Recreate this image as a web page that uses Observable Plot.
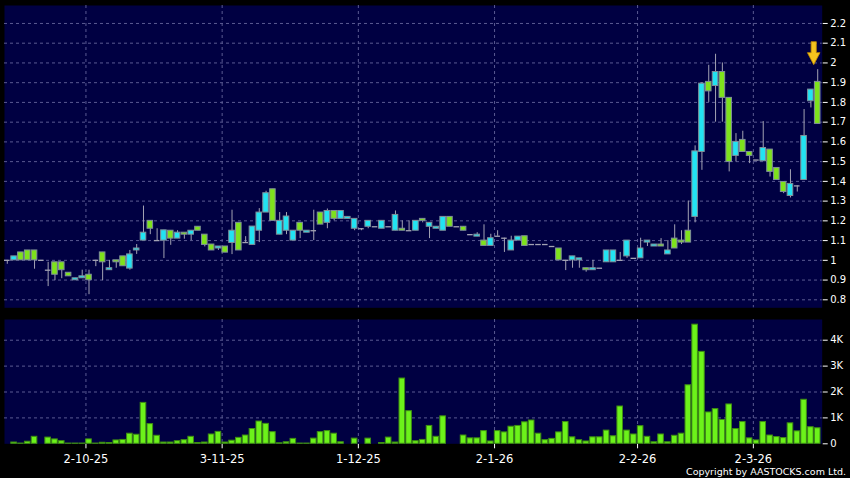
<!DOCTYPE html>
<html><head><meta charset="utf-8">
<script src="https://cdn.jsdelivr.net/npm/d3@7"></script>
<script src="https://cdn.jsdelivr.net/npm/@observablehq/plot@0.6"></script>
<style>
body{margin:0;background:#000;}
#chart{position:relative;width:850px;height:478px;background:#000;overflow:hidden;font-family:"DejaVu Sans",sans-serif;}
#chart svg{position:absolute;left:0;}
#copy{position:absolute;right:4px;top:466px;color:#fff;font-size:9.5px;line-height:11px;font-family:"DejaVu Sans",sans-serif;white-space:nowrap;}
</style></head><body><div id="chart"></div><script>
// ---- data (one entry per trading day) ----
const opens  = [1.00,1.00,1.04,1.05,1.05,1.00,0.95,0.99,0.99,0.937,0.899,0.909,0.927,1.00,1.04,0.95,1.00,1.02,0.958,1.05,
 1.10,1.20,1.10,1.10,1.15,1.11,1.14,1.13,1.17,1.13,1.08,1.06,1.07,1.088,1.19,1.09,1.078,1.15,1.242,1.36,
 1.13,1.15,1.10,1.19,1.14,1.15,1.242,1.19,1.25,1.21,1.21,1.16,1.16,1.17,1.17,1.16,1.17,1.15,1.16,1.15,
 1.15,1.21,1.17,1.16,1.15,1.22,1.17,1.17,1.13,1.12,1.10,1.073,1.122,1.112,1.05,1.10,1.122,1.08,1.08,1.08,
 1.07,1.06,1.00,1.00,1.00,0.96,0.95,0.96,0.99,0.99,1.00,1.02,1.01,1.01,1.09,1.07,1.08,1.03,1.11,1.10,
 1.15,1.22,1.549,1.904,1.883,1.954,1.823,1.529,1.61,1.549,1.508,1.502,1.561,1.468,1.397,1.326,1.377,1.407,1.806,1.904];
const highs  = [1.00,1.02,1.04,1.05,1.05,1.00,0.99,0.99,0.99,0.937,0.909,0.95,0.95,1.00,1.04,1.00,1.00,1.02,1.05,1.08,
 1.275,1.20,1.16,1.152,1.15,1.15,1.14,1.15,1.17,1.13,1.08,1.07,1.07,1.254,1.19,1.12,1.171,1.262,1.35,1.36,
 1.242,1.242,1.15,1.19,1.15,1.254,1.242,1.26,1.25,1.25,1.22,1.21,1.16,1.20,1.17,1.20,1.17,1.25,1.20,1.20,
 1.20,1.21,1.19,1.17,1.22,1.22,1.17,1.17,1.13,1.14,1.18,1.132,1.15,1.112,1.122,1.12,1.122,1.08,1.08,1.08,
 1.07,1.06,1.00,1.02,1.01,0.96,1.00,0.96,1.05,1.05,1.04,1.10,1.01,1.112,1.10,1.08,1.11,1.10,1.18,1.15,
 1.30,1.58,1.90,1.988,2.044,2.00,1.823,1.642,1.654,1.549,1.508,1.703,1.561,1.468,1.397,1.459,1.377,1.764,1.865,1.966];
const lows   = [0.98,1.00,1.00,1.00,0.955,1.00,0.867,0.897,0.907,0.919,0.899,0.909,0.826,0.968,0.897,0.95,0.96,0.97,0.95,1.03,
 1.10,1.13,1.10,1.009,1.076,1.11,1.107,1.10,1.15,1.068,1.05,1.05,1.039,1.029,1.05,1.09,1.078,1.09,1.242,1.20,
 1.13,1.13,1.10,1.11,1.14,1.10,1.181,1.16,1.20,1.21,1.21,1.15,1.15,1.16,1.17,1.16,1.17,1.15,1.15,1.15,
 1.15,1.19,1.11,1.16,1.15,1.17,1.17,1.15,1.13,1.12,1.073,1.073,1.122,1.04,1.05,1.10,1.073,1.08,1.08,1.08,
 1.07,1.00,0.948,0.96,0.96,0.94,0.95,0.96,0.99,0.99,1.00,1.01,1.01,1.01,1.07,1.07,1.07,1.03,1.06,1.08,
 1.09,1.19,1.456,1.80,1.70,1.70,1.448,1.498,1.549,1.49,1.508,1.502,1.422,1.407,1.338,1.316,1.346,1.407,1.772,1.691];
const closes = [1.00,1.02,1.00,1.00,1.00,1.00,0.95,0.927,0.95,0.919,0.909,0.919,0.899,1.00,0.99,0.96,0.99,0.97,1.03,1.06,
 1.14,1.16,1.10,1.152,1.11,1.14,1.13,1.15,1.15,1.078,1.05,1.07,1.039,1.15,1.05,1.09,1.171,1.242,1.34,1.20,
 1.20,1.222,1.15,1.15,1.15,1.15,1.181,1.25,1.21,1.25,1.22,1.21,1.16,1.20,1.17,1.20,1.17,1.23,1.15,1.15,
 1.20,1.20,1.19,1.17,1.22,1.17,1.17,1.15,1.13,1.13,1.073,1.112,1.122,1.112,1.10,1.12,1.073,1.08,1.08,1.08,
 1.07,1.00,1.00,1.02,1.01,0.95,0.96,0.96,1.05,1.05,1.00,1.10,1.01,1.06,1.10,1.08,1.07,1.05,1.06,1.09,
 1.09,1.552,1.895,1.856,1.954,1.823,1.498,1.60,1.549,1.529,1.508,1.569,1.448,1.407,1.346,1.387,1.377,1.63,1.865,1.691];
// volume in thousands
const volumes = [0,0.05,0.01,0.08,0.27,0,0.24,0.17,0.10,0.01,0.01,0.01,0.17,0.01,0.04,0.03,0.13,0.15,0.39,0.35,
 1.58,0.76,0.31,0.05,0.05,0.10,0.14,0.27,0.03,0.05,0.36,0.46,0.05,0.12,0.23,0.32,0.57,0.86,0.77,0.45,
 0.02,0.06,0.19,0.01,0.01,0.20,0.45,0.49,0.39,0.06,0,0.20,0,0.20,0,0.03,0.24,0.05,2.52,1.26,
 0.10,0.15,0.69,0.27,1.06,0,0,0.32,0.21,0.21,0.49,0.09,0.49,0.44,0.66,0.69,0.83,0.90,0.39,0.14,
 0.19,0.44,0.84,0.25,0.14,0.09,0.25,0.25,0.51,0.29,1.44,0.51,0.36,0.68,0.27,0.06,0.36,0.06,0.31,0.39,
 2.26,4.60,3.55,1.21,1.34,0.92,1.52,0.57,0.84,0.21,0.13,0.84,0.32,0.26,0.22,0.79,0.48,1.70,0.64,0.60];
// month labels and the trading-day position they belong to
const dateTickPos = [12, 32, 52, 72, 93, 110];
const dateTickLabels = ["2-10-25", "3-11-25", "1-12-25", "2-1-26", "2-2-26", "2-3-26"];
const priceTicks = [0.8,0.9,1.0,1.1,1.2,1.3,1.4,1.5,1.6,1.7,1.8,1.9,2.0,2.1,2.2];
const priceTickLabels = ["0.8","0.9","1","1.1","1.2","1.3","1.4","1.5","1.6","1.7","1.8","1.9","2","2.1","2.2"];
const volTicks = [0, 1, 2, 3, 4];
const volTickLabels = ["0", "1K", "2K", "3K", "4K"];

// ---- build table ----
const candles = opens.map((o, i) => ({i, o, h: highs[i], l: lows[i], c: closes[i], v: volumes[i]}));
const bodies = candles.filter(d => d.o !== d.c);
const dojis = candles.filter(d => d.o === d.c);
const gridX = dateTickPos.map(p => p - 0.45);

const NAVY = "#000042";
const GRID = "#5a5a92";
const UP = "#22e3f2";
const DOWN = "#7ee21c";
const half = 0.41;
const xDomain = [-0.41, 119.66];
const common = {
  width: 850, marginLeft: 4, marginRight: 28.3,
  style: {background: "transparent", color: "#fff", fontFamily: "DejaVu Sans, sans-serif", fontSize: "10px", overflow: "visible"}
};

const arrowSymbol = {draw(ctx) {
  ctx.moveTo(-2.6, -23); ctx.lineTo(2.6, -23); ctx.lineTo(2.6, -12); ctx.lineTo(6.3, -12);
  ctx.lineTo(0, 0); ctx.lineTo(-6.3, -12); ctx.lineTo(-2.6, -12); ctx.closePath();
}};
const last = candles[candles.length - 1];

const price = Plot.plot({
  ...common,
  height: 312, marginTop: 5, marginBottom: 4.7,
  x: {domain: xDomain, axis: null, label: null},
  y: {domain: [0.7595, 2.291], axis: "right", label: null, ticks: priceTicks, tickFormat: (d, i) => priceTickLabels[i], tickSize: 5, tickPadding: 3},
  marks: [
    Plot.frame({fill: NAVY, stroke: null}),
    Plot.ruleY(priceTicks, {stroke: GRID, strokeDasharray: "3,3"}),
    Plot.ruleX(gridX, {stroke: GRID, strokeDasharray: "3,3"}),
    Plot.ruleX(candles, {x: "i", y1: "l", y2: "h", stroke: "#a3a3b3", strokeWidth: 1}),
    Plot.ruleY(dojis, {x1: d => d.i - half, x2: d => d.i + half, y: "o", stroke: "#a3a3b3", strokeWidth: 1.3}),
    Plot.rect(bodies, {x1: d => d.i - half, x2: d => d.i + half, y1: "o", y2: "c",
      fill: d => d.c > d.o ? UP : DOWN, stroke: "#7f8f99", strokeWidth: 1}),
    Plot.dot([last], {x: "i", y: "h", symbol: arrowSymbol, r: 8, dx: -4, dy: -5, fill: "#f5c41e", stroke: "#c08a00", strokeWidth: 0.8})
  ]
});
price.style.top = "0px";

const volume = Plot.plot({
  ...common,
  height: 166, marginTop: 7, marginBottom: 34.7,
  x: {domain: xDomain, axis: "bottom", label: null, ticks: gridX, tickFormat: (d, i) => dateTickLabels[i], tickSize: 5, tickPadding: 6},
  y: {domain: [0, 4.8], axis: "right", label: null, ticks: volTicks, tickFormat: (d, i) => volTickLabels[i], tickSize: 5, tickPadding: 3},
  marks: [
    Plot.frame({fill: NAVY, stroke: null}),
    Plot.ruleY(volTicks.filter(t => t > 0), {stroke: GRID, strokeDasharray: "3,3"}),
    Plot.ruleX(gridX, {stroke: GRID, strokeDasharray: "3,3"}),
    Plot.rectY(candles.filter(d => d.v > 0), {x1: d => d.i - half, x2: d => d.i + half, y1: 0, y2: "v",
      fill: "#6cf21a", stroke: "#3f8f12", strokeWidth: 1})
  ]
});
volume.style.top = "312px";
const chart = document.getElementById("chart");
chart.appendChild(price);
chart.appendChild(volume);
// x-axis labels a bit larger
volume.querySelectorAll("g[aria-label='x-axis tick label'] text, g[aria-label='x-axis'] text").forEach(t => t.setAttribute("font-size", "11.5"));
const copy = document.createElement("div");
copy.id = "copy";
copy.textContent = "Copyright by AASTOCKS.com Ltd.";
chart.appendChild(copy);
</script></body></html>
